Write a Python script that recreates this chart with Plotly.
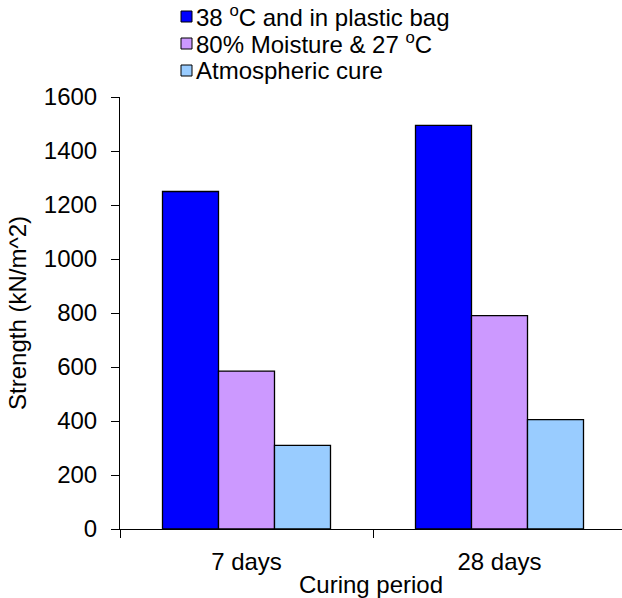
import plotly.graph_objects as go

# Compressive strength by curing period and curing condition
periods = ["7 days", "28 days"]
series_names = [
    "38 <sup>o</sup>C and in plastic bag",
    "80% Moisture & 27 <sup>o</sup>C",
    "Atmospheric cure",
]
strength_38c_bag = [1250, 1495]
strength_80pct_27c = [585, 790]
strength_atmospheric = [310, 405]
series_values = [strength_38c_bag, strength_80pct_27c, strength_atmospheric]
series_colors = ["#0000FF", "#CC99FF", "#99CCFF"]

y_ticks = [0, 200, 400, 600, 800, 1000, 1200, 1400, 1600]

FONT = "Arial, Liberation Sans, sans-serif"
FS = 24
W, H = 622, 598
L, R, T, B = 120, 0, 97, 69
plot_w = W - L - R
plot_h = H - T - B

fig = go.Figure()
for name, vals, col in zip(series_names, series_values, series_colors):
    fig.add_trace(go.Bar(
        x=periods, y=vals, name=name,
        marker=dict(color=col, line=dict(color="black", width=1.3)),
        showlegend=False,
    ))

# legend drawn as swatches + text above the plot area
def px_x(px):
    return (px - L) / plot_w

def px_y(py):
    return (H - B - py) / plot_h

row_centers = [16, 43, 70]
shapes = []
annotations = []
for name, col, yc in zip(series_names, series_colors, row_centers):
    shapes.append(dict(
        type="rect", xref="paper", yref="paper",
        x0=px_x(181), x1=px_x(192), y0=px_y(yc + 6), y1=px_y(yc - 5),
        fillcolor=col, line=dict(color="black", width=1),
    ))
    annotations.append(dict(
        text=name, xref="paper", yref="paper",
        x=px_x(194), y=px_y(yc), xanchor="left", yanchor="middle",
        showarrow=False, font=dict(family=FONT, size=FS, color="black"),
    ))

# category width in px, used to trim the visible x range to the canvas edge
cat_w = 253.0
x_hi = -0.5 + plot_w / cat_w

fig.update_layout(
    width=W, height=H,
    margin=dict(l=L, r=R, t=T, b=B, autoexpand=False),
    paper_bgcolor="white", plot_bgcolor="white",
    barmode="group", bargap=0.336, bargroupgap=0,
    font=dict(family=FONT, size=FS, color="black"),
    shapes=shapes, annotations=annotations,
    xaxis=dict(
        type="category", range=[-0.5, x_hi],
        showline=True, linecolor="black", linewidth=1,
        ticks="outside", ticklen=8, tickcolor="black", tickson="boundaries",
        ticklabelstandoff=11,
        tickfont=dict(family=FONT, size=FS),
        title=dict(text="Curing period", font=dict(family=FONT, size=FS)),
        showgrid=False, zeroline=False, automargin=False,
    ),
    yaxis=dict(
        range=[0, 1600], tickvals=y_ticks,
        showline=True, linecolor="black", linewidth=1,
        ticks="outside", ticklen=8, tickcolor="black",
        ticklabelstandoff=9,
        tickfont=dict(family=FONT, size=FS),
        title=dict(text="Strength (kN/m^2)", font=dict(family=FONT, size=FS),
                   standoff=10),
        showgrid=False, zeroline=False, automargin=False,
    ),
)

fig.write_html("out.html")
